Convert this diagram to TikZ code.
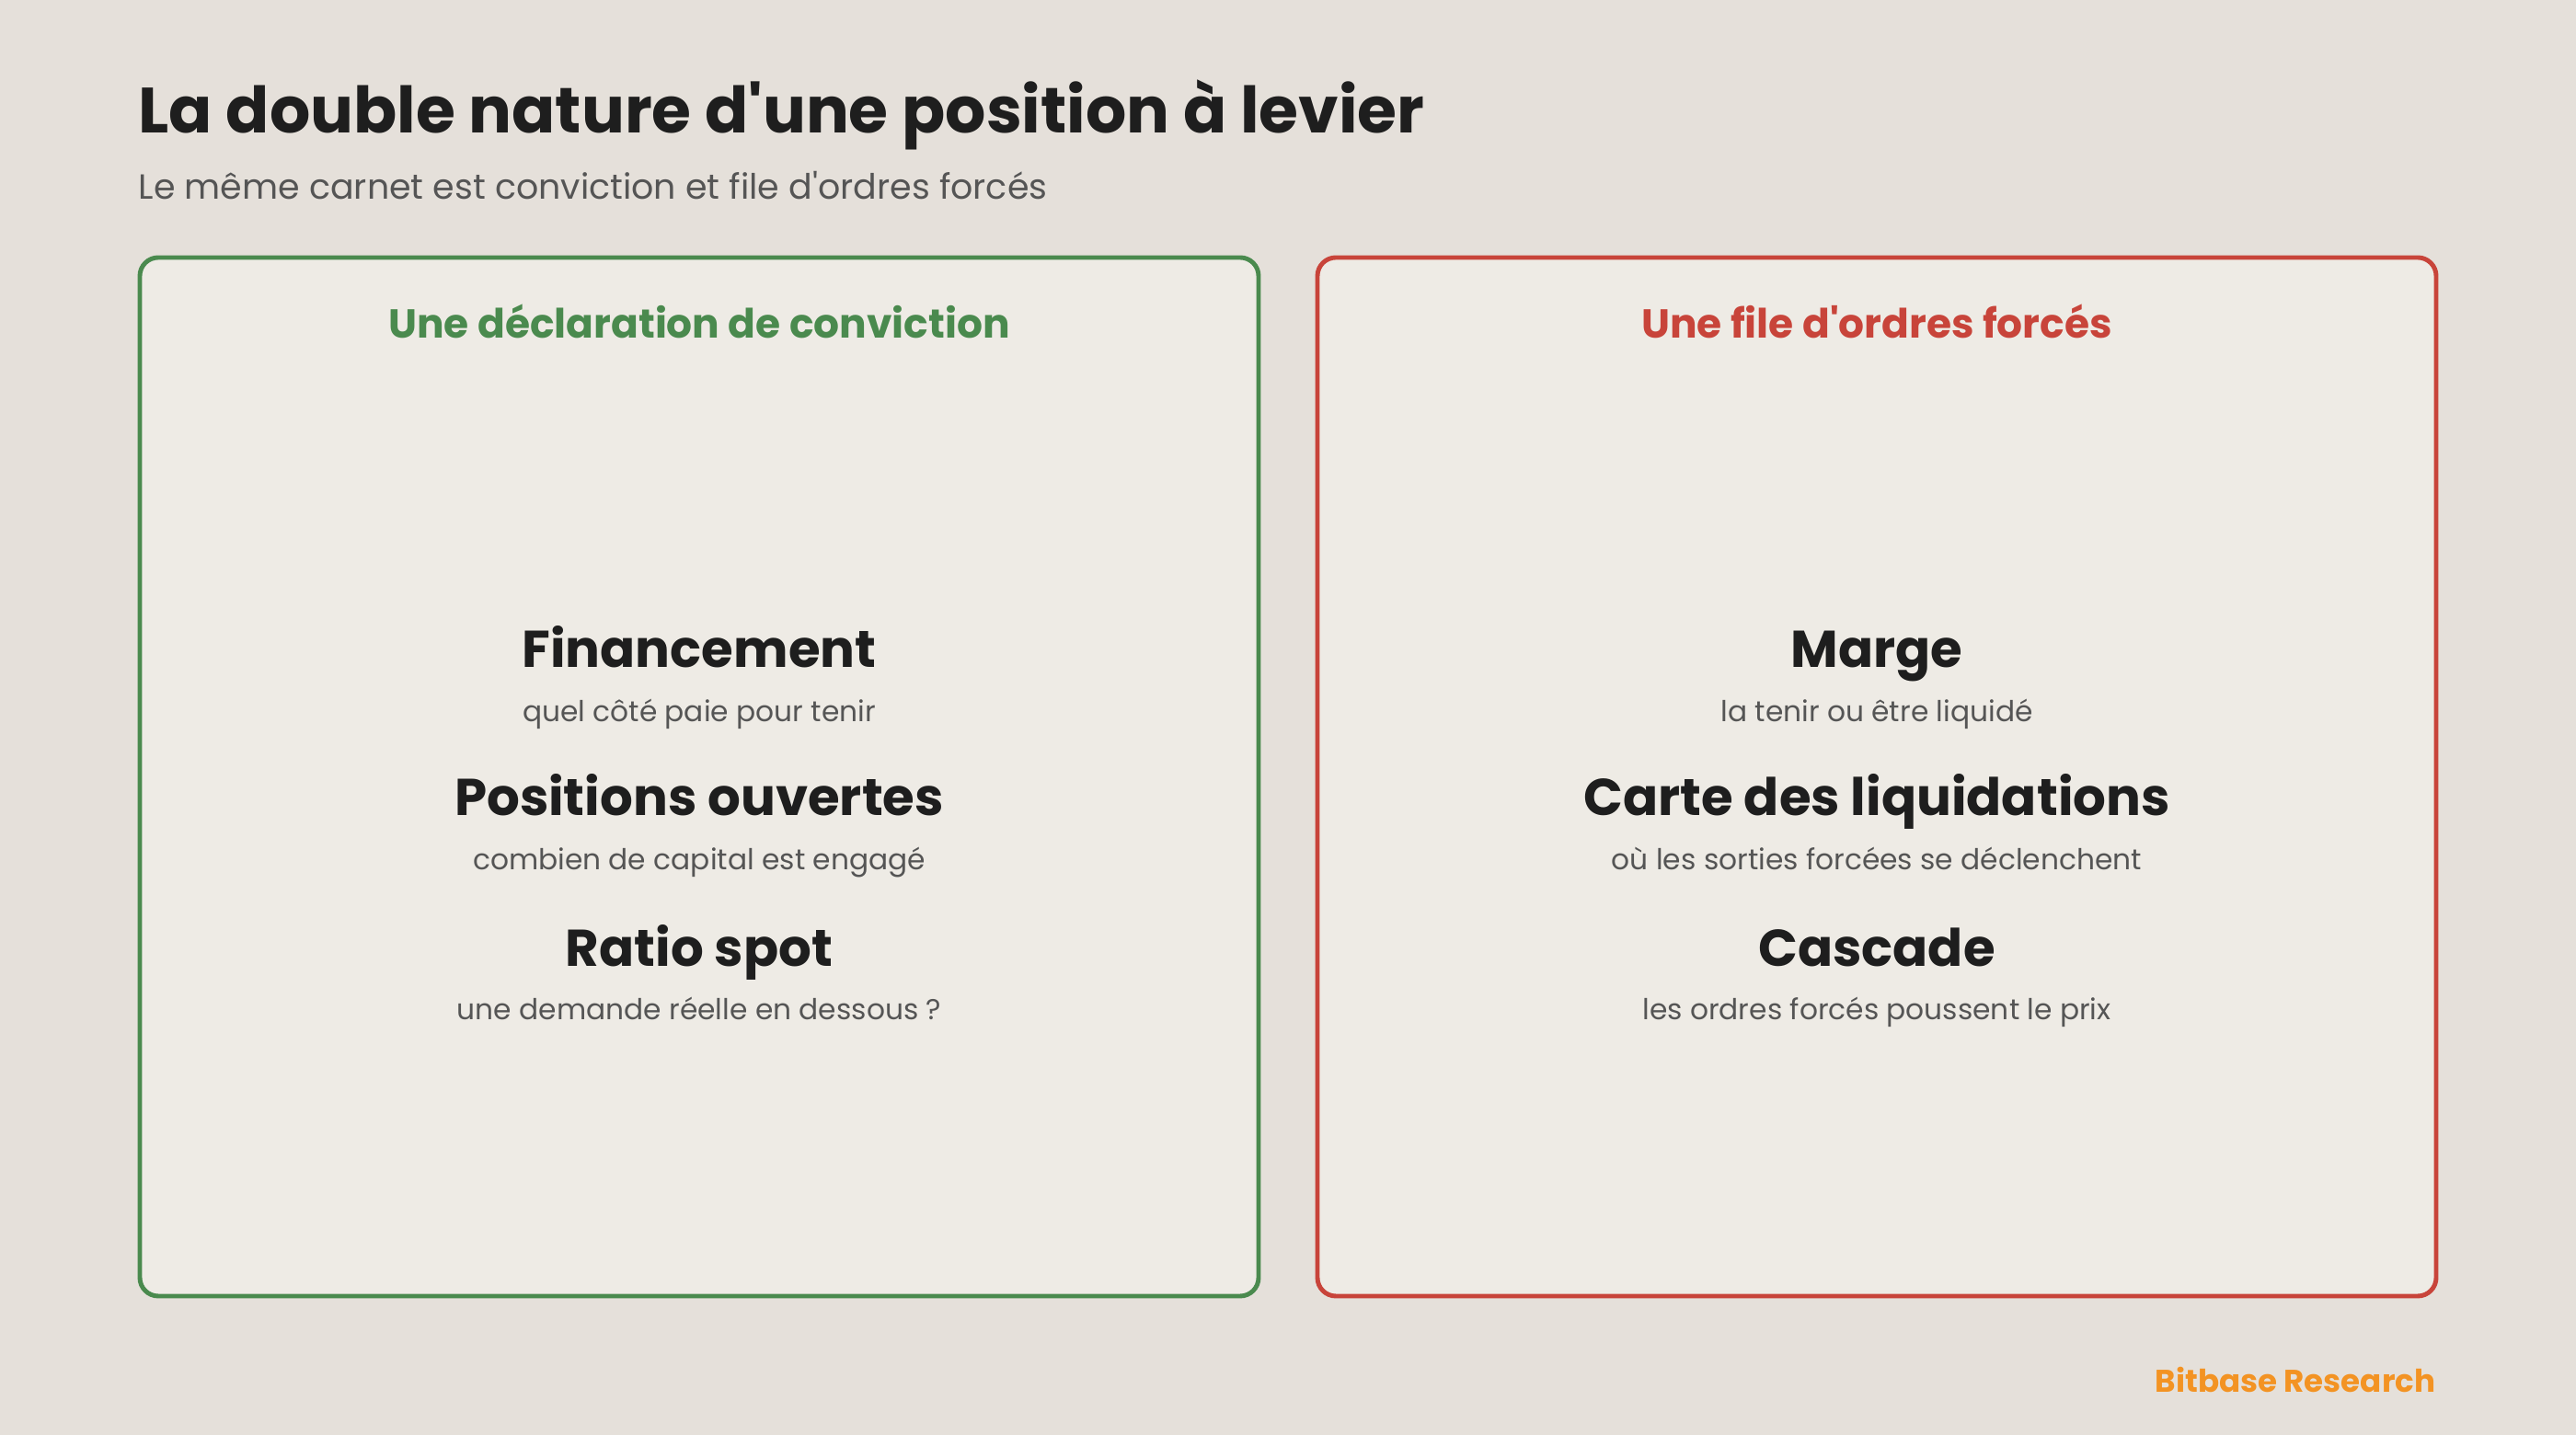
\documentclass[tikz,border=0pt]{standalone}
\usepackage{fontspec}
\setmainfont{Poppins}
\usepackage{tikz}
\definecolor{bgcol}{HTML}{E5E0DA}
\definecolor{boxcol}{HTML}{EEEBE5}
\definecolor{convgreen}{HTML}{4A8A4E}
\definecolor{forcered}{HTML}{C8443A}
\definecolor{brandorange}{HTML}{F39323}
\definecolor{inkcol}{HTML}{1E1E1E}
\definecolor{subcol}{HTML}{555555}
\newcommand{\apos}{\textquotesingle}
\tikzset{
  panel/.style={draw=#1, line width=1.4pt, fill=boxcol, rounded corners=0.2cm},
  head/.style={anchor=base, inner sep=0, text=#1, font=\fontsize{12.5}{15}\selectfont\bfseries},
  item/.style={anchor=base, inner sep=0, text=inkcol, font=\fontsize{16}{19}\selectfont\bfseries},
  note/.style={anchor=base, inner sep=0, text=subcol, font=\fontsize{8.9}{11}\selectfont}
}
\begin{document}
\begin{tikzpicture}
        % Fond
        \fill[bgcol] (0,0) rectangle (28,15.6);
        \useasboundingbox (0,0) rectangle (28,15.6);
        % Titre
        \node[anchor=base west, inner sep=0, text=inkcol, font=\fontsize{19.8}{23}\selectfont\bfseries] (titre) at (1.5,14.15) {La double nature d\apos une position à levier};
        \node[anchor=base west, inner sep=0, text=subcol, font=\fontsize{10.8}{13}\selectfont] (soustitre) at (1.5,13.43) {Le même carnet est conviction et file d\apos ordres forcés};
        % Panneaux
        \draw[panel=convgreen] (1.52,1.51) rectangle (13.68,12.80);
        \draw[panel=forcered] (14.32,1.51) rectangle (26.48,12.80);
        \node[head=convgreen] (conviction) at (7.6,11.92) {Une déclaration de conviction};
        \node[head=forcered] (forces) at (20.4,11.92) {Une file d\apos ordres forcés};
        % Colonne gauche
        \node[item] (financement) at (7.6,8.34) {Financement};
        \node[note] (financementnote) at (7.6,7.75) {quel côté paie pour tenir};
        \node[item] (positions) at (7.6,6.73) {Positions ouvertes};
        \node[note] (positionsnote) at (7.6,6.14) {combien de capital est engagé};
        \node[item] (ratio) at (7.6,5.09) {Ratio spot};
        \node[note] (rationote) at (7.6,4.51) {une demande réelle en dessous ?};
        % Colonne droite
        \node[item] (marge) at (20.4,8.34) {Marge};
        \node[note] (margenote) at (20.4,7.75) {la tenir ou être liquidé};
        \node[item] (carte) at (20.4,6.73) {Carte des liquidations};
        \node[note] (cartenote) at (20.4,6.14) {où les sorties forcées se déclenchent};
        \node[item] (cascade) at (20.4,5.09) {Cascade};
        \node[note] (cascadenote) at (20.4,4.51) {les ordres forcés poussent le prix};
        % Signature
        \node[anchor=base east, inner sep=0, text=brandorange, font=\fontsize{9.7}{12}\selectfont\bfseries] (signature) at (26.48,0.46) {Bitbase Research};
\end{tikzpicture}
\end{document}
